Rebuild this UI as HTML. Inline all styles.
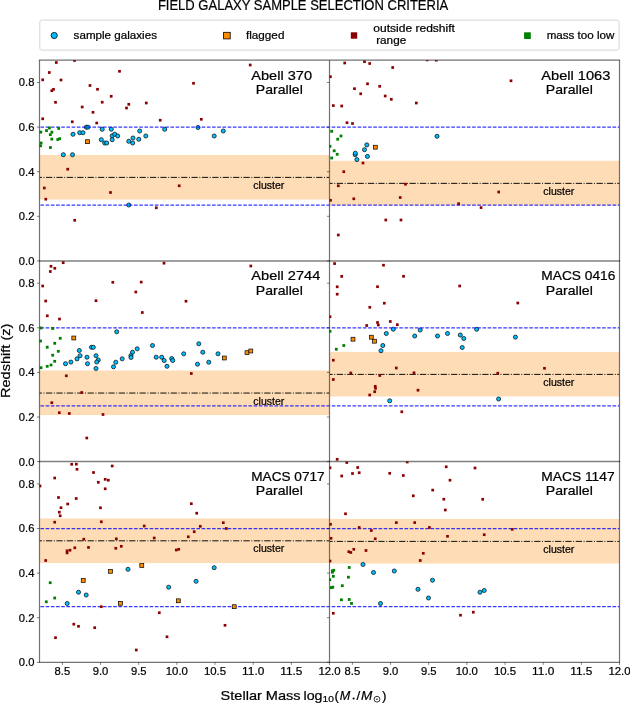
<!DOCTYPE html><html><head><meta charset="utf-8"><style>html,body{margin:0;padding:0;background:#fff;}svg{display:block;will-change:transform;}text{font-family:"Liberation Sans",sans-serif;fill:#000;stroke:#000;stroke-width:0.22px;}</style></head><body>
<svg width="630" height="706" viewBox="0 0 630 706">
<rect width="630" height="706" fill="#fff"/>
<defs>
<clipPath id="c00"><rect x="39.5" y="60.2" width="290.0" height="200.7"/></clipPath>
<clipPath id="c01"><rect x="329.5" y="60.2" width="290.0" height="200.7"/></clipPath>
<clipPath id="c10"><rect x="39.5" y="260.9" width="290.0" height="200.7"/></clipPath>
<clipPath id="c11"><rect x="329.5" y="260.9" width="290.0" height="200.7"/></clipPath>
<clipPath id="c20"><rect x="39.5" y="461.6" width="290.0" height="200.7"/></clipPath>
<clipPath id="c21"><rect x="329.5" y="461.6" width="290.0" height="200.7"/></clipPath>
</defs>
<text x="157.9" y="9.8" font-size="14.6" textLength="290.3" lengthAdjust="spacingAndGlyphs">FIELD GALAXY SAMPLE SELECTION CRITERIA</text>
<rect x="39.8" y="20.1" width="579.3" height="30" rx="2" ry="2" fill="#fff" stroke="#d6d6d6" stroke-width="1"/>
<circle cx="54.2" cy="35.5" r="3.1" fill="#00bfff" stroke="#000" stroke-width="0.8"/>
<text x="73.6" y="39.3" font-size="10.6" textLength="83.4" lengthAdjust="spacingAndGlyphs">sample galaxies</text>
<rect x="223.6" y="32.3" width="6.6" height="6.6" fill="#ff8c00" stroke="#000" stroke-width="0.8"/>
<text x="246" y="39.3" font-size="10.6" textLength="38.4" lengthAdjust="spacingAndGlyphs">flagged</text>
<rect x="350.8" y="32.3" width="6.4" height="6.4" fill="#8b0000"/>
<text x="373.3" y="32.4" font-size="10.6" textLength="81.6" lengthAdjust="spacingAndGlyphs">outside redshift</text>
<text x="376.2" y="43.7" font-size="10.6" textLength="30" lengthAdjust="spacingAndGlyphs">range</text>
<rect x="524.1" y="32.3" width="6.7" height="6.7" fill="#008000"/>
<text x="546.7" y="39.3" font-size="10.6" textLength="67.7" lengthAdjust="spacingAndGlyphs">mass too low</text>
<g clip-path="url(#c00)">
<rect x="39.5" y="154.97" width="290.0" height="44.60" fill="#fddcb6"/>
<circle cx="86.30" cy="127.20" r="2.05" fill="#00bfff" stroke="#000" stroke-width="0.7"/>
<circle cx="88.00" cy="127.20" r="2.05" fill="#00bfff" stroke="#000" stroke-width="0.7"/>
<circle cx="73.00" cy="134.30" r="2.05" fill="#00bfff" stroke="#000" stroke-width="0.7"/>
<circle cx="79.70" cy="132.70" r="2.05" fill="#00bfff" stroke="#000" stroke-width="0.7"/>
<circle cx="83.00" cy="132.70" r="2.05" fill="#00bfff" stroke="#000" stroke-width="0.7"/>
<circle cx="102.20" cy="129.30" r="2.05" fill="#00bfff" stroke="#000" stroke-width="0.7"/>
<circle cx="111.30" cy="129.30" r="2.05" fill="#00bfff" stroke="#000" stroke-width="0.7"/>
<circle cx="139.70" cy="131.00" r="2.05" fill="#00bfff" stroke="#000" stroke-width="0.7"/>
<circle cx="112.20" cy="135.80" r="2.05" fill="#00bfff" stroke="#000" stroke-width="0.7"/>
<circle cx="114.70" cy="134.20" r="2.05" fill="#00bfff" stroke="#000" stroke-width="0.7"/>
<circle cx="117.70" cy="136.00" r="2.05" fill="#00bfff" stroke="#000" stroke-width="0.7"/>
<circle cx="101.30" cy="139.70" r="2.05" fill="#00bfff" stroke="#000" stroke-width="0.7"/>
<circle cx="104.70" cy="143.00" r="2.05" fill="#00bfff" stroke="#000" stroke-width="0.7"/>
<circle cx="106.70" cy="143.00" r="2.05" fill="#00bfff" stroke="#000" stroke-width="0.7"/>
<circle cx="112.20" cy="139.70" r="2.05" fill="#00bfff" stroke="#000" stroke-width="0.7"/>
<circle cx="128.80" cy="141.30" r="2.05" fill="#00bfff" stroke="#000" stroke-width="0.7"/>
<circle cx="133.00" cy="138.00" r="2.05" fill="#00bfff" stroke="#000" stroke-width="0.7"/>
<circle cx="132.70" cy="143.00" r="2.05" fill="#00bfff" stroke="#000" stroke-width="0.7"/>
<circle cx="138.80" cy="139.30" r="2.05" fill="#00bfff" stroke="#000" stroke-width="0.7"/>
<circle cx="63.30" cy="154.70" r="2.05" fill="#00bfff" stroke="#000" stroke-width="0.7"/>
<circle cx="72.50" cy="154.70" r="2.05" fill="#00bfff" stroke="#000" stroke-width="0.7"/>
<circle cx="145.80" cy="136.00" r="2.05" fill="#00bfff" stroke="#000" stroke-width="0.7"/>
<circle cx="164.70" cy="129.30" r="2.05" fill="#00bfff" stroke="#000" stroke-width="0.7"/>
<circle cx="198.00" cy="127.50" r="2.05" fill="#00bfff" stroke="#000" stroke-width="0.7"/>
<circle cx="214.20" cy="136.00" r="2.05" fill="#00bfff" stroke="#000" stroke-width="0.7"/>
<circle cx="223.30" cy="131.00" r="2.05" fill="#00bfff" stroke="#000" stroke-width="0.7"/>
<circle cx="128.80" cy="205.00" r="2.05" fill="#00bfff" stroke="#000" stroke-width="0.7"/>
<line x1="39.5" y1="127.10" x2="329.5" y2="127.10" stroke="#0000ff" stroke-width="1.25" stroke-dasharray="3.63 1.57" stroke-dashoffset="4.26" opacity="0.78"/>
<line x1="39.5" y1="205.15" x2="329.5" y2="205.15" stroke="#0000ff" stroke-width="1.25" stroke-dasharray="3.63 1.57" stroke-dashoffset="4.26" opacity="0.78"/>
<line x1="39.5" y1="177.38" x2="329.5" y2="177.38" stroke="#000" stroke-width="1" stroke-dasharray="6.27 1.57 0.98 1.57" stroke-dashoffset="3.85" opacity="0.95"/>
<rect x="48.00" y="126.60" width="2.8" height="2.8" fill="#008000"/>
<rect x="57.30" y="127.00" width="2.8" height="2.8" fill="#008000"/>
<rect x="45.10" y="129.20" width="2.8" height="2.8" fill="#008000"/>
<rect x="39.40" y="130.70" width="2.8" height="2.8" fill="#008000"/>
<rect x="50.50" y="130.80" width="2.8" height="2.8" fill="#008000"/>
<rect x="48.90" y="133.20" width="2.8" height="2.8" fill="#008000"/>
<rect x="50.40" y="137.70" width="2.8" height="2.8" fill="#008000"/>
<rect x="56.40" y="138.10" width="2.8" height="2.8" fill="#008000"/>
<rect x="58.30" y="137.30" width="2.8" height="2.8" fill="#008000"/>
<rect x="39.70" y="141.60" width="2.8" height="2.8" fill="#008000"/>
<rect x="39.20" y="144.40" width="2.8" height="2.8" fill="#008000"/>
<rect x="49.00" y="146.10" width="2.8" height="2.8" fill="#008000"/>
<rect x="54.95" y="61.15" width="2.7" height="2.7" fill="#8b0000"/>
<rect x="73.15" y="59.15" width="2.7" height="2.7" fill="#8b0000"/>
<rect x="47.95" y="71.15" width="2.7" height="2.7" fill="#8b0000"/>
<rect x="41.35" y="78.45" width="2.7" height="2.7" fill="#8b0000"/>
<rect x="59.65" y="78.65" width="2.7" height="2.7" fill="#8b0000"/>
<rect x="118.15" y="69.95" width="2.7" height="2.7" fill="#8b0000"/>
<rect x="50.45" y="89.35" width="2.7" height="2.7" fill="#8b0000"/>
<rect x="52.15" y="87.95" width="2.7" height="2.7" fill="#8b0000"/>
<rect x="88.65" y="84.15" width="2.7" height="2.7" fill="#8b0000"/>
<rect x="96.15" y="87.95" width="2.7" height="2.7" fill="#8b0000"/>
<rect x="109.85" y="94.95" width="2.7" height="2.7" fill="#8b0000"/>
<rect x="54.15" y="100.95" width="2.7" height="2.7" fill="#8b0000"/>
<rect x="100.85" y="100.85" width="2.7" height="2.7" fill="#8b0000"/>
<rect x="80.85" y="105.65" width="2.7" height="2.7" fill="#8b0000"/>
<rect x="127.45" y="102.95" width="2.7" height="2.7" fill="#8b0000"/>
<rect x="125.15" y="106.65" width="2.7" height="2.7" fill="#8b0000"/>
<rect x="91.65" y="110.95" width="2.7" height="2.7" fill="#8b0000"/>
<rect x="41.35" y="117.45" width="2.7" height="2.7" fill="#8b0000"/>
<rect x="70.95" y="120.45" width="2.7" height="2.7" fill="#8b0000"/>
<rect x="95.35" y="121.65" width="2.7" height="2.7" fill="#8b0000"/>
<rect x="144.95" y="101.65" width="2.7" height="2.7" fill="#8b0000"/>
<rect x="192.15" y="81.95" width="2.7" height="2.7" fill="#8b0000"/>
<rect x="158.85" y="118.85" width="2.7" height="2.7" fill="#8b0000"/>
<rect x="199.95" y="117.95" width="2.7" height="2.7" fill="#8b0000"/>
<rect x="248.85" y="63.65" width="2.7" height="2.7" fill="#8b0000"/>
<rect x="66.35" y="167.85" width="2.7" height="2.7" fill="#8b0000"/>
<rect x="42.95" y="186.65" width="2.7" height="2.7" fill="#8b0000"/>
<rect x="44.45" y="197.85" width="2.7" height="2.7" fill="#8b0000"/>
<rect x="109.15" y="191.15" width="2.7" height="2.7" fill="#8b0000"/>
<rect x="73.35" y="218.95" width="2.7" height="2.7" fill="#8b0000"/>
<rect x="177.85" y="184.45" width="2.7" height="2.7" fill="#8b0000"/>
<rect x="154.95" y="206.45" width="2.7" height="2.7" fill="#8b0000"/>
<rect x="85.55" y="139.75" width="3.8999999999999995" height="3.8999999999999995" fill="#ff8c00" stroke="#000" stroke-width="0.7"/>
</g>
<text x="253.3" y="188.98" font-size="10.2" textLength="31.1" lengthAdjust="spacingAndGlyphs">cluster</text>
<text x="251.3" y="79.60" font-size="12.9" textLength="60.7" lengthAdjust="spacingAndGlyphs">Abell 370</text>
<text x="255.8" y="94.00" font-size="12.9" textLength="47" lengthAdjust="spacingAndGlyphs">Parallel</text>
<line x1="36.90" y1="260.90" x2="39.5" y2="260.90" stroke="#000" stroke-width="0.8" stroke-opacity="0.6"/>
<text x="34.4" y="264.80" font-size="11.3" text-anchor="end" textLength="15.6" lengthAdjust="spacingAndGlyphs">0.0</text>
<line x1="36.90" y1="216.30" x2="39.5" y2="216.30" stroke="#000" stroke-width="0.8" stroke-opacity="0.6"/>
<text x="34.4" y="220.20" font-size="11.3" text-anchor="end" textLength="15.6" lengthAdjust="spacingAndGlyphs">0.2</text>
<line x1="36.90" y1="171.70" x2="39.5" y2="171.70" stroke="#000" stroke-width="0.8" stroke-opacity="0.6"/>
<text x="34.4" y="175.60" font-size="11.3" text-anchor="end" textLength="15.6" lengthAdjust="spacingAndGlyphs">0.4</text>
<line x1="36.90" y1="127.10" x2="39.5" y2="127.10" stroke="#000" stroke-width="0.8" stroke-opacity="0.6"/>
<text x="34.4" y="131.00" font-size="11.3" text-anchor="end" textLength="15.6" lengthAdjust="spacingAndGlyphs">0.6</text>
<line x1="36.90" y1="82.50" x2="39.5" y2="82.50" stroke="#000" stroke-width="0.8" stroke-opacity="0.6"/>
<text x="34.4" y="86.40" font-size="11.3" text-anchor="end" textLength="15.6" lengthAdjust="spacingAndGlyphs">0.8</text>
<g clip-path="url(#c01)">
<rect x="329.5" y="160.77" width="290.0" height="44.60" fill="#fddcb6"/>
<circle cx="366.80" cy="144.90" r="2.05" fill="#00bfff" stroke="#000" stroke-width="0.7"/>
<circle cx="364.50" cy="149.70" r="2.05" fill="#00bfff" stroke="#000" stroke-width="0.7"/>
<circle cx="355.20" cy="154.80" r="2.05" fill="#00bfff" stroke="#000" stroke-width="0.7"/>
<circle cx="355.30" cy="153.20" r="2.05" fill="#00bfff" stroke="#000" stroke-width="0.7"/>
<circle cx="367.40" cy="156.40" r="2.05" fill="#00bfff" stroke="#000" stroke-width="0.7"/>
<circle cx="356.90" cy="159.60" r="2.05" fill="#00bfff" stroke="#000" stroke-width="0.7"/>
<circle cx="437.00" cy="136.30" r="2.05" fill="#00bfff" stroke="#000" stroke-width="0.7"/>
<line x1="329.5" y1="127.10" x2="619.5" y2="127.10" stroke="#0000ff" stroke-width="1.25" stroke-dasharray="3.63 1.57" stroke-dashoffset="3.0" opacity="0.78"/>
<line x1="329.5" y1="205.15" x2="619.5" y2="205.15" stroke="#0000ff" stroke-width="1.25" stroke-dasharray="3.63 1.57" stroke-dashoffset="3.0" opacity="0.78"/>
<line x1="329.5" y1="183.35" x2="619.5" y2="183.35" stroke="#000" stroke-width="1" stroke-dasharray="6.27 1.57 0.98 1.57" stroke-dashoffset="3.1" opacity="0.95"/>
<rect x="330.30" y="129.90" width="2.8" height="2.8" fill="#008000"/>
<rect x="336.30" y="137.80" width="2.8" height="2.8" fill="#008000"/>
<rect x="339.60" y="134.60" width="2.8" height="2.8" fill="#008000"/>
<rect x="328.60" y="144.90" width="2.8" height="2.8" fill="#008000"/>
<rect x="332.80" y="149.40" width="2.8" height="2.8" fill="#008000"/>
<rect x="335.80" y="152.90" width="2.8" height="2.8" fill="#008000"/>
<rect x="330.30" y="156.60" width="2.8" height="2.8" fill="#008000"/>
<rect x="343.35" y="61.65" width="2.7" height="2.7" fill="#8b0000"/>
<rect x="363.15" y="60.35" width="2.7" height="2.7" fill="#8b0000"/>
<rect x="368.35" y="62.15" width="2.7" height="2.7" fill="#8b0000"/>
<rect x="391.35" y="66.15" width="2.7" height="2.7" fill="#8b0000"/>
<rect x="425.85" y="58.55" width="2.7" height="2.7" fill="#8b0000"/>
<rect x="434.95" y="58.85" width="2.7" height="2.7" fill="#8b0000"/>
<rect x="329.05" y="75.35" width="2.7" height="2.7" fill="#8b0000"/>
<rect x="366.15" y="82.45" width="2.7" height="2.7" fill="#8b0000"/>
<rect x="353.15" y="87.35" width="2.7" height="2.7" fill="#8b0000"/>
<rect x="378.35" y="84.95" width="2.7" height="2.7" fill="#8b0000"/>
<rect x="359.35" y="92.45" width="2.7" height="2.7" fill="#8b0000"/>
<rect x="383.85" y="94.65" width="2.7" height="2.7" fill="#8b0000"/>
<rect x="389.95" y="97.95" width="2.7" height="2.7" fill="#8b0000"/>
<rect x="331.95" y="104.25" width="2.7" height="2.7" fill="#8b0000"/>
<rect x="340.35" y="104.65" width="2.7" height="2.7" fill="#8b0000"/>
<rect x="414.95" y="101.65" width="2.7" height="2.7" fill="#8b0000"/>
<rect x="345.65" y="121.35" width="2.7" height="2.7" fill="#8b0000"/>
<rect x="351.15" y="122.15" width="2.7" height="2.7" fill="#8b0000"/>
<rect x="509.65" y="79.45" width="2.7" height="2.7" fill="#8b0000"/>
<rect x="361.65" y="161.65" width="2.7" height="2.7" fill="#8b0000"/>
<rect x="342.45" y="170.35" width="2.7" height="2.7" fill="#8b0000"/>
<rect x="336.95" y="184.45" width="2.7" height="2.7" fill="#8b0000"/>
<rect x="404.15" y="182.85" width="2.7" height="2.7" fill="#8b0000"/>
<rect x="329.15" y="198.95" width="2.7" height="2.7" fill="#8b0000"/>
<rect x="352.45" y="197.45" width="2.7" height="2.7" fill="#8b0000"/>
<rect x="398.85" y="196.15" width="2.7" height="2.7" fill="#8b0000"/>
<rect x="384.45" y="218.65" width="2.7" height="2.7" fill="#8b0000"/>
<rect x="399.65" y="218.65" width="2.7" height="2.7" fill="#8b0000"/>
<rect x="336.95" y="233.65" width="2.7" height="2.7" fill="#8b0000"/>
<rect x="457.25" y="202.35" width="2.7" height="2.7" fill="#8b0000"/>
<rect x="479.75" y="206.25" width="2.7" height="2.7" fill="#8b0000"/>
<rect x="497.35" y="190.65" width="2.7" height="2.7" fill="#8b0000"/>
<rect x="373.35" y="145.25" width="3.8999999999999995" height="3.8999999999999995" fill="#ff8c00" stroke="#000" stroke-width="0.7"/>
</g>
<text x="543.3" y="194.95" font-size="10.2" textLength="31.1" lengthAdjust="spacingAndGlyphs">cluster</text>
<text x="541.3" y="79.60" font-size="12.9" textLength="69.1" lengthAdjust="spacingAndGlyphs">Abell 1063</text>
<text x="545.8" y="94.00" font-size="12.9" textLength="47" lengthAdjust="spacingAndGlyphs">Parallel</text>
<line x1="326.90" y1="260.90" x2="329.5" y2="260.90" stroke="#000" stroke-width="0.8" stroke-opacity="0.6"/>
<line x1="326.90" y1="216.30" x2="329.5" y2="216.30" stroke="#000" stroke-width="0.8" stroke-opacity="0.6"/>
<line x1="326.90" y1="171.70" x2="329.5" y2="171.70" stroke="#000" stroke-width="0.8" stroke-opacity="0.6"/>
<line x1="326.90" y1="127.10" x2="329.5" y2="127.10" stroke="#000" stroke-width="0.8" stroke-opacity="0.6"/>
<line x1="326.90" y1="82.50" x2="329.5" y2="82.50" stroke="#000" stroke-width="0.8" stroke-opacity="0.6"/>
<g clip-path="url(#c10)">
<rect x="39.5" y="370.50" width="290.0" height="44.60" fill="#fddcb6"/>
<circle cx="116.70" cy="331.80" r="2.05" fill="#00bfff" stroke="#000" stroke-width="0.7"/>
<circle cx="91.50" cy="347.30" r="2.05" fill="#00bfff" stroke="#000" stroke-width="0.7"/>
<circle cx="93.30" cy="347.30" r="2.05" fill="#00bfff" stroke="#000" stroke-width="0.7"/>
<circle cx="79.30" cy="350.50" r="2.05" fill="#00bfff" stroke="#000" stroke-width="0.7"/>
<circle cx="80.10" cy="355.70" r="2.05" fill="#00bfff" stroke="#000" stroke-width="0.7"/>
<circle cx="77.00" cy="358.90" r="2.05" fill="#00bfff" stroke="#000" stroke-width="0.7"/>
<circle cx="70.90" cy="362.10" r="2.05" fill="#00bfff" stroke="#000" stroke-width="0.7"/>
<circle cx="65.50" cy="363.70" r="2.05" fill="#00bfff" stroke="#000" stroke-width="0.7"/>
<circle cx="87.00" cy="357.20" r="2.05" fill="#00bfff" stroke="#000" stroke-width="0.7"/>
<circle cx="87.50" cy="363.70" r="2.05" fill="#00bfff" stroke="#000" stroke-width="0.7"/>
<circle cx="96.00" cy="355.70" r="2.05" fill="#00bfff" stroke="#000" stroke-width="0.7"/>
<circle cx="98.30" cy="360.00" r="2.05" fill="#00bfff" stroke="#000" stroke-width="0.7"/>
<circle cx="96.70" cy="362.00" r="2.05" fill="#00bfff" stroke="#000" stroke-width="0.7"/>
<circle cx="96.00" cy="368.50" r="2.05" fill="#00bfff" stroke="#000" stroke-width="0.7"/>
<circle cx="113.50" cy="366.80" r="2.05" fill="#00bfff" stroke="#000" stroke-width="0.7"/>
<circle cx="115.80" cy="362.20" r="2.05" fill="#00bfff" stroke="#000" stroke-width="0.7"/>
<circle cx="122.20" cy="358.80" r="2.05" fill="#00bfff" stroke="#000" stroke-width="0.7"/>
<circle cx="131.00" cy="355.50" r="2.05" fill="#00bfff" stroke="#000" stroke-width="0.7"/>
<circle cx="131.00" cy="357.50" r="2.05" fill="#00bfff" stroke="#000" stroke-width="0.7"/>
<circle cx="132.50" cy="352.20" r="2.05" fill="#00bfff" stroke="#000" stroke-width="0.7"/>
<circle cx="137.20" cy="348.80" r="2.05" fill="#00bfff" stroke="#000" stroke-width="0.7"/>
<circle cx="152.50" cy="345.50" r="2.05" fill="#00bfff" stroke="#000" stroke-width="0.7"/>
<circle cx="156.20" cy="357.20" r="2.05" fill="#00bfff" stroke="#000" stroke-width="0.7"/>
<circle cx="161.70" cy="357.20" r="2.05" fill="#00bfff" stroke="#000" stroke-width="0.7"/>
<circle cx="164.20" cy="360.50" r="2.05" fill="#00bfff" stroke="#000" stroke-width="0.7"/>
<circle cx="171.70" cy="358.50" r="2.05" fill="#00bfff" stroke="#000" stroke-width="0.7"/>
<circle cx="172.70" cy="360.50" r="2.05" fill="#00bfff" stroke="#000" stroke-width="0.7"/>
<circle cx="167.00" cy="366.30" r="2.05" fill="#00bfff" stroke="#000" stroke-width="0.7"/>
<circle cx="183.70" cy="353.80" r="2.05" fill="#00bfff" stroke="#000" stroke-width="0.7"/>
<circle cx="198.80" cy="343.80" r="2.05" fill="#00bfff" stroke="#000" stroke-width="0.7"/>
<circle cx="202.80" cy="352.20" r="2.05" fill="#00bfff" stroke="#000" stroke-width="0.7"/>
<circle cx="197.50" cy="364.20" r="2.05" fill="#00bfff" stroke="#000" stroke-width="0.7"/>
<circle cx="208.80" cy="362.20" r="2.05" fill="#00bfff" stroke="#000" stroke-width="0.7"/>
<circle cx="218.00" cy="353.80" r="2.05" fill="#00bfff" stroke="#000" stroke-width="0.7"/>
<line x1="39.5" y1="327.80" x2="329.5" y2="327.80" stroke="#0000ff" stroke-width="1.25" stroke-dasharray="3.63 1.57" stroke-dashoffset="4.26" opacity="0.78"/>
<line x1="39.5" y1="405.85" x2="329.5" y2="405.85" stroke="#0000ff" stroke-width="1.25" stroke-dasharray="3.63 1.57" stroke-dashoffset="4.26" opacity="0.78"/>
<line x1="39.5" y1="393.05" x2="329.5" y2="393.05" stroke="#000" stroke-width="1" stroke-dasharray="6.27 1.57 0.98 1.57" stroke-dashoffset="3.85" opacity="0.95"/>
<rect x="39.60" y="326.60" width="2.8" height="2.8" fill="#008000"/>
<rect x="51.30" y="327.10" width="2.8" height="2.8" fill="#008000"/>
<rect x="39.10" y="339.60" width="2.8" height="2.8" fill="#008000"/>
<rect x="58.80" y="336.90" width="2.8" height="2.8" fill="#008000"/>
<rect x="53.30" y="341.90" width="2.8" height="2.8" fill="#008000"/>
<rect x="45.80" y="345.80" width="2.8" height="2.8" fill="#008000"/>
<rect x="56.90" y="349.90" width="2.8" height="2.8" fill="#008000"/>
<rect x="51.30" y="353.80" width="2.8" height="2.8" fill="#008000"/>
<rect x="53.30" y="359.90" width="2.8" height="2.8" fill="#008000"/>
<rect x="49.60" y="363.60" width="2.8" height="2.8" fill="#008000"/>
<rect x="45.80" y="364.90" width="2.8" height="2.8" fill="#008000"/>
<rect x="39.60" y="366.30" width="2.8" height="2.8" fill="#008000"/>
<rect x="61.85" y="261.35" width="2.7" height="2.7" fill="#8b0000"/>
<rect x="49.65" y="264.95" width="2.7" height="2.7" fill="#8b0000"/>
<rect x="53.45" y="266.95" width="2.7" height="2.7" fill="#8b0000"/>
<rect x="48.95" y="270.15" width="2.7" height="2.7" fill="#8b0000"/>
<rect x="41.35" y="284.65" width="2.7" height="2.7" fill="#8b0000"/>
<rect x="111.45" y="280.95" width="2.7" height="2.7" fill="#8b0000"/>
<rect x="139.85" y="280.75" width="2.7" height="2.7" fill="#8b0000"/>
<rect x="134.45" y="290.65" width="2.7" height="2.7" fill="#8b0000"/>
<rect x="44.35" y="299.65" width="2.7" height="2.7" fill="#8b0000"/>
<rect x="94.65" y="299.35" width="2.7" height="2.7" fill="#8b0000"/>
<rect x="45.95" y="314.45" width="2.7" height="2.7" fill="#8b0000"/>
<rect x="58.15" y="317.65" width="2.7" height="2.7" fill="#8b0000"/>
<rect x="140.95" y="311.15" width="2.7" height="2.7" fill="#8b0000"/>
<rect x="162.65" y="261.85" width="2.7" height="2.7" fill="#8b0000"/>
<rect x="184.65" y="299.85" width="2.7" height="2.7" fill="#8b0000"/>
<rect x="249.45" y="264.65" width="2.7" height="2.7" fill="#8b0000"/>
<rect x="64.95" y="374.45" width="2.7" height="2.7" fill="#8b0000"/>
<rect x="189.95" y="372.15" width="2.7" height="2.7" fill="#8b0000"/>
<rect x="80.35" y="391.15" width="2.7" height="2.7" fill="#8b0000"/>
<rect x="50.45" y="401.35" width="2.7" height="2.7" fill="#8b0000"/>
<rect x="57.95" y="411.35" width="2.7" height="2.7" fill="#8b0000"/>
<rect x="67.95" y="412.15" width="2.7" height="2.7" fill="#8b0000"/>
<rect x="101.65" y="413.15" width="2.7" height="2.7" fill="#8b0000"/>
<rect x="85.45" y="436.65" width="2.7" height="2.7" fill="#8b0000"/>
<rect x="71.85" y="336.05" width="3.8999999999999995" height="3.8999999999999995" fill="#ff8c00" stroke="#000" stroke-width="0.7"/>
<rect x="222.35" y="356.05" width="3.8999999999999995" height="3.8999999999999995" fill="#ff8c00" stroke="#000" stroke-width="0.7"/>
<rect x="245.05" y="350.75" width="3.8999999999999995" height="3.8999999999999995" fill="#ff8c00" stroke="#000" stroke-width="0.7"/>
<rect x="248.85" y="349.05" width="3.8999999999999995" height="3.8999999999999995" fill="#ff8c00" stroke="#000" stroke-width="0.7"/>
</g>
<text x="253.3" y="404.65" font-size="10.2" textLength="31.1" lengthAdjust="spacingAndGlyphs">cluster</text>
<text x="251.3" y="280.30" font-size="12.9" textLength="69.0" lengthAdjust="spacingAndGlyphs">Abell 2744</text>
<text x="255.8" y="294.70" font-size="12.9" textLength="47" lengthAdjust="spacingAndGlyphs">Parallel</text>
<line x1="36.90" y1="461.60" x2="39.5" y2="461.60" stroke="#000" stroke-width="0.8" stroke-opacity="0.6"/>
<text x="34.4" y="465.50" font-size="11.3" text-anchor="end" textLength="15.6" lengthAdjust="spacingAndGlyphs">0.0</text>
<line x1="36.90" y1="417.00" x2="39.5" y2="417.00" stroke="#000" stroke-width="0.8" stroke-opacity="0.6"/>
<text x="34.4" y="420.90" font-size="11.3" text-anchor="end" textLength="15.6" lengthAdjust="spacingAndGlyphs">0.2</text>
<line x1="36.90" y1="372.40" x2="39.5" y2="372.40" stroke="#000" stroke-width="0.8" stroke-opacity="0.6"/>
<text x="34.4" y="376.30" font-size="11.3" text-anchor="end" textLength="15.6" lengthAdjust="spacingAndGlyphs">0.4</text>
<line x1="36.90" y1="327.80" x2="39.5" y2="327.80" stroke="#000" stroke-width="0.8" stroke-opacity="0.6"/>
<text x="34.4" y="331.70" font-size="11.3" text-anchor="end" textLength="15.6" lengthAdjust="spacingAndGlyphs">0.6</text>
<line x1="36.90" y1="283.20" x2="39.5" y2="283.20" stroke="#000" stroke-width="0.8" stroke-opacity="0.6"/>
<text x="34.4" y="287.10" font-size="11.3" text-anchor="end" textLength="15.6" lengthAdjust="spacingAndGlyphs">0.8</text>
<g clip-path="url(#c11)">
<rect x="329.5" y="351.88" width="290.0" height="44.60" fill="#fddcb6"/>
<circle cx="393.30" cy="329.20" r="2.05" fill="#00bfff" stroke="#000" stroke-width="0.7"/>
<circle cx="386.30" cy="333.50" r="2.05" fill="#00bfff" stroke="#000" stroke-width="0.7"/>
<circle cx="382.80" cy="345.50" r="2.05" fill="#00bfff" stroke="#000" stroke-width="0.7"/>
<circle cx="381.00" cy="350.70" r="2.05" fill="#00bfff" stroke="#000" stroke-width="0.7"/>
<circle cx="414.70" cy="336.00" r="2.05" fill="#00bfff" stroke="#000" stroke-width="0.7"/>
<circle cx="420.20" cy="330.00" r="2.05" fill="#00bfff" stroke="#000" stroke-width="0.7"/>
<circle cx="437.50" cy="336.00" r="2.05" fill="#00bfff" stroke="#000" stroke-width="0.7"/>
<circle cx="447.50" cy="333.50" r="2.05" fill="#00bfff" stroke="#000" stroke-width="0.7"/>
<circle cx="460.30" cy="335.00" r="2.05" fill="#00bfff" stroke="#000" stroke-width="0.7"/>
<circle cx="463.80" cy="338.50" r="2.05" fill="#00bfff" stroke="#000" stroke-width="0.7"/>
<circle cx="462.20" cy="347.50" r="2.05" fill="#00bfff" stroke="#000" stroke-width="0.7"/>
<circle cx="476.70" cy="329.30" r="2.05" fill="#00bfff" stroke="#000" stroke-width="0.7"/>
<circle cx="515.40" cy="337.10" r="2.05" fill="#00bfff" stroke="#000" stroke-width="0.7"/>
<circle cx="389.70" cy="400.80" r="2.05" fill="#00bfff" stroke="#000" stroke-width="0.7"/>
<circle cx="498.60" cy="399.00" r="2.05" fill="#00bfff" stroke="#000" stroke-width="0.7"/>
<line x1="329.5" y1="327.80" x2="619.5" y2="327.80" stroke="#0000ff" stroke-width="1.25" stroke-dasharray="3.63 1.57" stroke-dashoffset="3.0" opacity="0.78"/>
<line x1="329.5" y1="405.85" x2="619.5" y2="405.85" stroke="#0000ff" stroke-width="1.25" stroke-dasharray="3.63 1.57" stroke-dashoffset="3.0" opacity="0.78"/>
<line x1="329.5" y1="374.38" x2="619.5" y2="374.38" stroke="#000" stroke-width="1" stroke-dasharray="6.27 1.57 0.98 1.57" stroke-dashoffset="3.1" opacity="0.95"/>
<rect x="328.60" y="329.90" width="2.8" height="2.8" fill="#008000"/>
<rect x="334.90" y="347.80" width="2.8" height="2.8" fill="#008000"/>
<rect x="342.40" y="344.10" width="2.8" height="2.8" fill="#008000"/>
<rect x="333.25" y="262.25" width="2.7" height="2.7" fill="#8b0000"/>
<rect x="340.35" y="275.05" width="2.7" height="2.7" fill="#8b0000"/>
<rect x="382.15" y="263.85" width="2.7" height="2.7" fill="#8b0000"/>
<rect x="402.15" y="274.95" width="2.7" height="2.7" fill="#8b0000"/>
<rect x="335.85" y="285.45" width="2.7" height="2.7" fill="#8b0000"/>
<rect x="376.15" y="285.35" width="2.7" height="2.7" fill="#8b0000"/>
<rect x="335.85" y="292.85" width="2.7" height="2.7" fill="#8b0000"/>
<rect x="382.95" y="301.85" width="2.7" height="2.7" fill="#8b0000"/>
<rect x="368.45" y="305.95" width="2.7" height="2.7" fill="#8b0000"/>
<rect x="328.65" y="315.35" width="2.7" height="2.7" fill="#8b0000"/>
<rect x="376.15" y="321.15" width="2.7" height="2.7" fill="#8b0000"/>
<rect x="376.95" y="323.65" width="2.7" height="2.7" fill="#8b0000"/>
<rect x="388.95" y="320.15" width="2.7" height="2.7" fill="#8b0000"/>
<rect x="395.95" y="323.35" width="2.7" height="2.7" fill="#8b0000"/>
<rect x="365.35" y="324.15" width="2.7" height="2.7" fill="#8b0000"/>
<rect x="458.35" y="284.65" width="2.7" height="2.7" fill="#8b0000"/>
<rect x="516.45" y="301.65" width="2.7" height="2.7" fill="#8b0000"/>
<rect x="331.95" y="358.85" width="2.7" height="2.7" fill="#8b0000"/>
<rect x="349.45" y="371.65" width="2.7" height="2.7" fill="#8b0000"/>
<rect x="394.95" y="366.65" width="2.7" height="2.7" fill="#8b0000"/>
<rect x="378.45" y="374.15" width="2.7" height="2.7" fill="#8b0000"/>
<rect x="412.65" y="371.45" width="2.7" height="2.7" fill="#8b0000"/>
<rect x="331.95" y="378.15" width="2.7" height="2.7" fill="#8b0000"/>
<rect x="373.85" y="384.95" width="2.7" height="2.7" fill="#8b0000"/>
<rect x="374.15" y="386.95" width="2.7" height="2.7" fill="#8b0000"/>
<rect x="373.35" y="390.35" width="2.7" height="2.7" fill="#8b0000"/>
<rect x="368.35" y="393.65" width="2.7" height="2.7" fill="#8b0000"/>
<rect x="416.65" y="388.85" width="2.7" height="2.7" fill="#8b0000"/>
<rect x="400.45" y="410.45" width="2.7" height="2.7" fill="#8b0000"/>
<rect x="496.45" y="371.85" width="2.7" height="2.7" fill="#8b0000"/>
<rect x="543.15" y="366.95" width="2.7" height="2.7" fill="#8b0000"/>
<rect x="335.85" y="457.95" width="2.7" height="2.7" fill="#8b0000"/>
<rect x="351.05" y="337.25" width="3.8999999999999995" height="3.8999999999999995" fill="#ff8c00" stroke="#000" stroke-width="0.7"/>
<rect x="369.35" y="335.25" width="3.8999999999999995" height="3.8999999999999995" fill="#ff8c00" stroke="#000" stroke-width="0.7"/>
<rect x="372.55" y="339.25" width="3.8999999999999995" height="3.8999999999999995" fill="#ff8c00" stroke="#000" stroke-width="0.7"/>
</g>
<text x="543.3" y="385.98" font-size="10.2" textLength="31.1" lengthAdjust="spacingAndGlyphs">cluster</text>
<text x="541.3" y="280.30" font-size="12.9" textLength="74.0" lengthAdjust="spacingAndGlyphs">MACS 0416</text>
<text x="545.8" y="294.70" font-size="12.9" textLength="47" lengthAdjust="spacingAndGlyphs">Parallel</text>
<line x1="326.90" y1="461.60" x2="329.5" y2="461.60" stroke="#000" stroke-width="0.8" stroke-opacity="0.6"/>
<line x1="326.90" y1="417.00" x2="329.5" y2="417.00" stroke="#000" stroke-width="0.8" stroke-opacity="0.6"/>
<line x1="326.90" y1="372.40" x2="329.5" y2="372.40" stroke="#000" stroke-width="0.8" stroke-opacity="0.6"/>
<line x1="326.90" y1="327.80" x2="329.5" y2="327.80" stroke="#000" stroke-width="0.8" stroke-opacity="0.6"/>
<line x1="326.90" y1="283.20" x2="329.5" y2="283.20" stroke="#000" stroke-width="0.8" stroke-opacity="0.6"/>
<g clip-path="url(#c20)">
<rect x="39.5" y="518.47" width="290.0" height="44.60" fill="#fddcb6"/>
<circle cx="128.00" cy="569.30" r="2.05" fill="#00bfff" stroke="#000" stroke-width="0.7"/>
<circle cx="214.20" cy="567.70" r="2.05" fill="#00bfff" stroke="#000" stroke-width="0.7"/>
<circle cx="196.10" cy="581.30" r="2.05" fill="#00bfff" stroke="#000" stroke-width="0.7"/>
<circle cx="168.70" cy="587.20" r="2.05" fill="#00bfff" stroke="#000" stroke-width="0.7"/>
<circle cx="78.50" cy="592.20" r="2.05" fill="#00bfff" stroke="#000" stroke-width="0.7"/>
<circle cx="86.20" cy="595.00" r="2.05" fill="#00bfff" stroke="#000" stroke-width="0.7"/>
<circle cx="67.20" cy="603.50" r="2.05" fill="#00bfff" stroke="#000" stroke-width="0.7"/>
<line x1="39.5" y1="528.50" x2="329.5" y2="528.50" stroke="#0000ff" stroke-width="1.25" stroke-dasharray="3.63 1.57" stroke-dashoffset="4.26" opacity="0.78"/>
<line x1="39.5" y1="606.55" x2="329.5" y2="606.55" stroke="#0000ff" stroke-width="1.25" stroke-dasharray="3.63 1.57" stroke-dashoffset="4.26" opacity="0.78"/>
<line x1="39.5" y1="540.82" x2="329.5" y2="540.82" stroke="#000" stroke-width="1" stroke-dasharray="6.27 1.57 0.98 1.57" stroke-dashoffset="3.85" opacity="0.95"/>
<rect x="48.80" y="581.30" width="2.8" height="2.8" fill="#008000"/>
<rect x="53.30" y="596.60" width="2.8" height="2.8" fill="#008000"/>
<rect x="44.90" y="600.40" width="2.8" height="2.8" fill="#008000"/>
<rect x="70.35" y="462.95" width="2.7" height="2.7" fill="#8b0000"/>
<rect x="74.95" y="462.85" width="2.7" height="2.7" fill="#8b0000"/>
<rect x="75.65" y="467.95" width="2.7" height="2.7" fill="#8b0000"/>
<rect x="110.85" y="464.65" width="2.7" height="2.7" fill="#8b0000"/>
<rect x="92.15" y="471.15" width="2.7" height="2.7" fill="#8b0000"/>
<rect x="53.35" y="476.65" width="2.7" height="2.7" fill="#8b0000"/>
<rect x="38.65" y="484.65" width="2.7" height="2.7" fill="#8b0000"/>
<rect x="103.85" y="477.95" width="2.7" height="2.7" fill="#8b0000"/>
<rect x="106.95" y="478.85" width="2.7" height="2.7" fill="#8b0000"/>
<rect x="96.95" y="480.95" width="2.7" height="2.7" fill="#8b0000"/>
<rect x="103.85" y="487.45" width="2.7" height="2.7" fill="#8b0000"/>
<rect x="57.15" y="496.15" width="2.7" height="2.7" fill="#8b0000"/>
<rect x="74.85" y="497.15" width="2.7" height="2.7" fill="#8b0000"/>
<rect x="66.35" y="502.65" width="2.7" height="2.7" fill="#8b0000"/>
<rect x="59.65" y="506.35" width="2.7" height="2.7" fill="#8b0000"/>
<rect x="99.15" y="506.45" width="2.7" height="2.7" fill="#8b0000"/>
<rect x="57.95" y="510.85" width="2.7" height="2.7" fill="#8b0000"/>
<rect x="58.85" y="514.45" width="2.7" height="2.7" fill="#8b0000"/>
<rect x="53.35" y="520.85" width="2.7" height="2.7" fill="#8b0000"/>
<rect x="99.95" y="520.45" width="2.7" height="2.7" fill="#8b0000"/>
<rect x="189.95" y="502.35" width="2.7" height="2.7" fill="#8b0000"/>
<rect x="195.35" y="511.85" width="2.7" height="2.7" fill="#8b0000"/>
<rect x="221.95" y="521.35" width="2.7" height="2.7" fill="#8b0000"/>
<rect x="142.85" y="524.65" width="2.7" height="2.7" fill="#8b0000"/>
<rect x="198.95" y="524.95" width="2.7" height="2.7" fill="#8b0000"/>
<rect x="224.95" y="527.15" width="2.7" height="2.7" fill="#8b0000"/>
<rect x="152.85" y="536.65" width="2.7" height="2.7" fill="#8b0000"/>
<rect x="186.95" y="535.45" width="2.7" height="2.7" fill="#8b0000"/>
<rect x="192.85" y="530.35" width="2.7" height="2.7" fill="#8b0000"/>
<rect x="174.95" y="548.65" width="2.7" height="2.7" fill="#8b0000"/>
<rect x="177.35" y="547.95" width="2.7" height="2.7" fill="#8b0000"/>
<rect x="82.45" y="537.85" width="2.7" height="2.7" fill="#8b0000"/>
<rect x="114.95" y="537.45" width="2.7" height="2.7" fill="#8b0000"/>
<rect x="65.75" y="549.45" width="2.7" height="2.7" fill="#8b0000"/>
<rect x="65.75" y="551.55" width="2.7" height="2.7" fill="#8b0000"/>
<rect x="68.65" y="548.85" width="2.7" height="2.7" fill="#8b0000"/>
<rect x="73.45" y="546.45" width="2.7" height="2.7" fill="#8b0000"/>
<rect x="87.15" y="546.05" width="2.7" height="2.7" fill="#8b0000"/>
<rect x="114.45" y="546.95" width="2.7" height="2.7" fill="#8b0000"/>
<rect x="119.95" y="544.95" width="2.7" height="2.7" fill="#8b0000"/>
<rect x="44.35" y="559.15" width="2.7" height="2.7" fill="#8b0000"/>
<rect x="99.95" y="605.35" width="2.7" height="2.7" fill="#8b0000"/>
<rect x="72.45" y="622.85" width="2.7" height="2.7" fill="#8b0000"/>
<rect x="77.15" y="624.95" width="2.7" height="2.7" fill="#8b0000"/>
<rect x="93.35" y="626.35" width="2.7" height="2.7" fill="#8b0000"/>
<rect x="54.15" y="636.35" width="2.7" height="2.7" fill="#8b0000"/>
<rect x="134.95" y="648.65" width="2.7" height="2.7" fill="#8b0000"/>
<rect x="157.95" y="611.35" width="2.7" height="2.7" fill="#8b0000"/>
<rect x="165.65" y="635.45" width="2.7" height="2.7" fill="#8b0000"/>
<rect x="223.65" y="623.95" width="2.7" height="2.7" fill="#8b0000"/>
<rect x="108.55" y="569.35" width="3.8999999999999995" height="3.8999999999999995" fill="#ff8c00" stroke="#000" stroke-width="0.7"/>
<rect x="81.25" y="578.45" width="3.8999999999999995" height="3.8999999999999995" fill="#ff8c00" stroke="#000" stroke-width="0.7"/>
<rect x="139.85" y="563.55" width="3.8999999999999995" height="3.8999999999999995" fill="#ff8c00" stroke="#000" stroke-width="0.7"/>
<rect x="118.55" y="601.35" width="3.8999999999999995" height="3.8999999999999995" fill="#ff8c00" stroke="#000" stroke-width="0.7"/>
<rect x="176.35" y="598.85" width="3.8999999999999995" height="3.8999999999999995" fill="#ff8c00" stroke="#000" stroke-width="0.7"/>
<rect x="232.25" y="604.75" width="3.8999999999999995" height="3.8999999999999995" fill="#ff8c00" stroke="#000" stroke-width="0.7"/>
</g>
<text x="253.3" y="552.42" font-size="10.2" textLength="31.1" lengthAdjust="spacingAndGlyphs">cluster</text>
<text x="251.3" y="481.00" font-size="12.9" textLength="73.3" lengthAdjust="spacingAndGlyphs">MACS 0717</text>
<text x="255.8" y="495.40" font-size="12.9" textLength="47" lengthAdjust="spacingAndGlyphs">Parallel</text>
<line x1="36.90" y1="662.30" x2="39.5" y2="662.30" stroke="#000" stroke-width="0.8" stroke-opacity="0.6"/>
<text x="34.4" y="666.20" font-size="11.3" text-anchor="end" textLength="15.6" lengthAdjust="spacingAndGlyphs">0.0</text>
<line x1="36.90" y1="617.70" x2="39.5" y2="617.70" stroke="#000" stroke-width="0.8" stroke-opacity="0.6"/>
<text x="34.4" y="621.60" font-size="11.3" text-anchor="end" textLength="15.6" lengthAdjust="spacingAndGlyphs">0.2</text>
<line x1="36.90" y1="573.10" x2="39.5" y2="573.10" stroke="#000" stroke-width="0.8" stroke-opacity="0.6"/>
<text x="34.4" y="577.00" font-size="11.3" text-anchor="end" textLength="15.6" lengthAdjust="spacingAndGlyphs">0.4</text>
<line x1="36.90" y1="528.50" x2="39.5" y2="528.50" stroke="#000" stroke-width="0.8" stroke-opacity="0.6"/>
<text x="34.4" y="532.40" font-size="11.3" text-anchor="end" textLength="15.6" lengthAdjust="spacingAndGlyphs">0.6</text>
<line x1="36.90" y1="483.90" x2="39.5" y2="483.90" stroke="#000" stroke-width="0.8" stroke-opacity="0.6"/>
<text x="34.4" y="487.80" font-size="11.3" text-anchor="end" textLength="15.6" lengthAdjust="spacingAndGlyphs">0.8</text>
<line x1="62.39" y1="662.30" x2="62.39" y2="664.90" stroke="#000" stroke-width="0.8" stroke-opacity="0.6"/>
<text x="62.39" y="675.0" font-size="11.3" text-anchor="middle" textLength="15.6" lengthAdjust="spacingAndGlyphs">8.5</text>
<line x1="100.55" y1="662.30" x2="100.55" y2="664.90" stroke="#000" stroke-width="0.8" stroke-opacity="0.6"/>
<text x="100.55" y="675.0" font-size="11.3" text-anchor="middle" textLength="15.6" lengthAdjust="spacingAndGlyphs">9.0</text>
<line x1="138.71" y1="662.30" x2="138.71" y2="664.90" stroke="#000" stroke-width="0.8" stroke-opacity="0.6"/>
<text x="138.71" y="675.0" font-size="11.3" text-anchor="middle" textLength="15.6" lengthAdjust="spacingAndGlyphs">9.5</text>
<line x1="176.87" y1="662.30" x2="176.87" y2="664.90" stroke="#000" stroke-width="0.8" stroke-opacity="0.6"/>
<text x="176.87" y="675.0" font-size="11.3" text-anchor="middle" textLength="22.2" lengthAdjust="spacingAndGlyphs">10.0</text>
<line x1="215.03" y1="662.30" x2="215.03" y2="664.90" stroke="#000" stroke-width="0.8" stroke-opacity="0.6"/>
<text x="215.03" y="675.0" font-size="11.3" text-anchor="middle" textLength="22.2" lengthAdjust="spacingAndGlyphs">10.5</text>
<line x1="253.18" y1="662.30" x2="253.18" y2="664.90" stroke="#000" stroke-width="0.8" stroke-opacity="0.6"/>
<text x="253.18" y="675.0" font-size="11.3" text-anchor="middle" textLength="22.2" lengthAdjust="spacingAndGlyphs">11.0</text>
<line x1="291.34" y1="662.30" x2="291.34" y2="664.90" stroke="#000" stroke-width="0.8" stroke-opacity="0.6"/>
<text x="291.34" y="675.0" font-size="11.3" text-anchor="middle" textLength="22.2" lengthAdjust="spacingAndGlyphs">11.5</text>
<line x1="329.50" y1="662.30" x2="329.50" y2="664.90" stroke="#000" stroke-width="0.8" stroke-opacity="0.6"/>
<text x="329.50" y="675.0" font-size="11.3" text-anchor="middle" textLength="22.2" lengthAdjust="spacingAndGlyphs">12.0</text>
<g clip-path="url(#c21)">
<rect x="329.5" y="518.91" width="290.0" height="44.60" fill="#fddcb6"/>
<circle cx="363.00" cy="564.50" r="2.05" fill="#00bfff" stroke="#000" stroke-width="0.7"/>
<circle cx="373.50" cy="572.50" r="2.05" fill="#00bfff" stroke="#000" stroke-width="0.7"/>
<circle cx="394.30" cy="571.00" r="2.05" fill="#00bfff" stroke="#000" stroke-width="0.7"/>
<circle cx="432.50" cy="580.20" r="2.05" fill="#00bfff" stroke="#000" stroke-width="0.7"/>
<circle cx="418.00" cy="589.30" r="2.05" fill="#00bfff" stroke="#000" stroke-width="0.7"/>
<circle cx="428.50" cy="598.00" r="2.05" fill="#00bfff" stroke="#000" stroke-width="0.7"/>
<circle cx="380.50" cy="603.50" r="2.05" fill="#00bfff" stroke="#000" stroke-width="0.7"/>
<circle cx="480.00" cy="592.20" r="2.05" fill="#00bfff" stroke="#000" stroke-width="0.7"/>
<circle cx="484.20" cy="590.50" r="2.05" fill="#00bfff" stroke="#000" stroke-width="0.7"/>
<line x1="329.5" y1="528.50" x2="619.5" y2="528.50" stroke="#0000ff" stroke-width="1.25" stroke-dasharray="3.63 1.57" stroke-dashoffset="3.0" opacity="0.78"/>
<line x1="329.5" y1="606.55" x2="619.5" y2="606.55" stroke="#0000ff" stroke-width="1.25" stroke-dasharray="3.63 1.57" stroke-dashoffset="3.0" opacity="0.78"/>
<line x1="329.5" y1="541.38" x2="619.5" y2="541.38" stroke="#000" stroke-width="1" stroke-dasharray="6.27 1.57 0.98 1.57" stroke-dashoffset="3.1" opacity="0.95"/>
<rect x="347.80" y="566.10" width="2.8" height="2.8" fill="#008000"/>
<rect x="332.40" y="568.90" width="2.8" height="2.8" fill="#008000"/>
<rect x="331.00" y="569.50" width="2.8" height="2.8" fill="#008000"/>
<rect x="331.00" y="570.80" width="2.8" height="2.8" fill="#008000"/>
<rect x="331.90" y="574.90" width="2.8" height="2.8" fill="#008000"/>
<rect x="347.00" y="575.80" width="2.8" height="2.8" fill="#008000"/>
<rect x="340.90" y="584.30" width="2.8" height="2.8" fill="#008000"/>
<rect x="331.40" y="585.80" width="2.8" height="2.8" fill="#008000"/>
<rect x="330.00" y="586.20" width="2.8" height="2.8" fill="#008000"/>
<rect x="340.00" y="598.40" width="2.8" height="2.8" fill="#008000"/>
<rect x="347.80" y="598.10" width="2.8" height="2.8" fill="#008000"/>
<rect x="350.10" y="602.00" width="2.8" height="2.8" fill="#008000"/>
<rect x="328.40" y="578.30" width="2.8" height="2.8" fill="#008000"/>
<rect x="345.45" y="461.15" width="2.7" height="2.7" fill="#8b0000"/>
<rect x="405.85" y="460.65" width="2.7" height="2.7" fill="#8b0000"/>
<rect x="356.35" y="466.15" width="2.7" height="2.7" fill="#8b0000"/>
<rect x="351.15" y="472.15" width="2.7" height="2.7" fill="#8b0000"/>
<rect x="357.85" y="471.35" width="2.7" height="2.7" fill="#8b0000"/>
<rect x="340.35" y="474.65" width="2.7" height="2.7" fill="#8b0000"/>
<rect x="388.35" y="471.95" width="2.7" height="2.7" fill="#8b0000"/>
<rect x="401.95" y="474.15" width="2.7" height="2.7" fill="#8b0000"/>
<rect x="431.35" y="488.75" width="2.7" height="2.7" fill="#8b0000"/>
<rect x="411.95" y="494.45" width="2.7" height="2.7" fill="#8b0000"/>
<rect x="344.15" y="512.45" width="2.7" height="2.7" fill="#8b0000"/>
<rect x="329.15" y="522.95" width="2.7" height="2.7" fill="#8b0000"/>
<rect x="394.95" y="521.25" width="2.7" height="2.7" fill="#8b0000"/>
<rect x="413.35" y="521.25" width="2.7" height="2.7" fill="#8b0000"/>
<rect x="357.85" y="526.15" width="2.7" height="2.7" fill="#8b0000"/>
<rect x="369.95" y="529.15" width="2.7" height="2.7" fill="#8b0000"/>
<rect x="428.05" y="526.15" width="2.7" height="2.7" fill="#8b0000"/>
<rect x="329.65" y="536.95" width="2.7" height="2.7" fill="#8b0000"/>
<rect x="373.85" y="537.45" width="2.7" height="2.7" fill="#8b0000"/>
<rect x="347.45" y="550.35" width="2.7" height="2.7" fill="#8b0000"/>
<rect x="349.45" y="551.15" width="2.7" height="2.7" fill="#8b0000"/>
<rect x="352.45" y="547.95" width="2.7" height="2.7" fill="#8b0000"/>
<rect x="364.65" y="549.15" width="2.7" height="2.7" fill="#8b0000"/>
<rect x="421.95" y="551.95" width="2.7" height="2.7" fill="#8b0000"/>
<rect x="418.85" y="559.15" width="2.7" height="2.7" fill="#8b0000"/>
<rect x="328.65" y="559.65" width="2.7" height="2.7" fill="#8b0000"/>
<rect x="444.85" y="465.45" width="2.7" height="2.7" fill="#8b0000"/>
<rect x="473.65" y="466.65" width="2.7" height="2.7" fill="#8b0000"/>
<rect x="328.65" y="466.45" width="2.7" height="2.7" fill="#8b0000"/>
<rect x="448.65" y="478.85" width="2.7" height="2.7" fill="#8b0000"/>
<rect x="442.45" y="497.85" width="2.7" height="2.7" fill="#8b0000"/>
<rect x="481.35" y="497.95" width="2.7" height="2.7" fill="#8b0000"/>
<rect x="443.95" y="508.65" width="2.7" height="2.7" fill="#8b0000"/>
<rect x="446.15" y="534.95" width="2.7" height="2.7" fill="#8b0000"/>
<rect x="482.85" y="533.35" width="2.7" height="2.7" fill="#8b0000"/>
<rect x="510.85" y="527.95" width="2.7" height="2.7" fill="#8b0000"/>
<rect x="331.95" y="611.95" width="2.7" height="2.7" fill="#8b0000"/>
<rect x="459.15" y="613.85" width="2.7" height="2.7" fill="#8b0000"/>
<rect x="471.95" y="610.85" width="2.7" height="2.7" fill="#8b0000"/>
</g>
<text x="543.3" y="552.98" font-size="10.2" textLength="31.1" lengthAdjust="spacingAndGlyphs">cluster</text>
<text x="541.3" y="481.00" font-size="12.9" textLength="73.3" lengthAdjust="spacingAndGlyphs">MACS 1147</text>
<text x="545.8" y="495.40" font-size="12.9" textLength="47" lengthAdjust="spacingAndGlyphs">Parallel</text>
<line x1="326.90" y1="662.30" x2="329.5" y2="662.30" stroke="#000" stroke-width="0.8" stroke-opacity="0.6"/>
<line x1="326.90" y1="617.70" x2="329.5" y2="617.70" stroke="#000" stroke-width="0.8" stroke-opacity="0.6"/>
<line x1="326.90" y1="573.10" x2="329.5" y2="573.10" stroke="#000" stroke-width="0.8" stroke-opacity="0.6"/>
<line x1="326.90" y1="528.50" x2="329.5" y2="528.50" stroke="#000" stroke-width="0.8" stroke-opacity="0.6"/>
<line x1="326.90" y1="483.90" x2="329.5" y2="483.90" stroke="#000" stroke-width="0.8" stroke-opacity="0.6"/>
<line x1="352.39" y1="662.30" x2="352.39" y2="664.90" stroke="#000" stroke-width="0.8" stroke-opacity="0.6"/>
<text x="352.39" y="675.0" font-size="11.3" text-anchor="middle" textLength="15.6" lengthAdjust="spacingAndGlyphs">8.5</text>
<line x1="390.55" y1="662.30" x2="390.55" y2="664.90" stroke="#000" stroke-width="0.8" stroke-opacity="0.6"/>
<text x="390.55" y="675.0" font-size="11.3" text-anchor="middle" textLength="15.6" lengthAdjust="spacingAndGlyphs">9.0</text>
<line x1="428.71" y1="662.30" x2="428.71" y2="664.90" stroke="#000" stroke-width="0.8" stroke-opacity="0.6"/>
<text x="428.71" y="675.0" font-size="11.3" text-anchor="middle" textLength="15.6" lengthAdjust="spacingAndGlyphs">9.5</text>
<line x1="466.87" y1="662.30" x2="466.87" y2="664.90" stroke="#000" stroke-width="0.8" stroke-opacity="0.6"/>
<text x="466.87" y="675.0" font-size="11.3" text-anchor="middle" textLength="22.2" lengthAdjust="spacingAndGlyphs">10.0</text>
<line x1="505.03" y1="662.30" x2="505.03" y2="664.90" stroke="#000" stroke-width="0.8" stroke-opacity="0.6"/>
<text x="505.03" y="675.0" font-size="11.3" text-anchor="middle" textLength="22.2" lengthAdjust="spacingAndGlyphs">10.5</text>
<line x1="543.18" y1="662.30" x2="543.18" y2="664.90" stroke="#000" stroke-width="0.8" stroke-opacity="0.6"/>
<text x="543.18" y="675.0" font-size="11.3" text-anchor="middle" textLength="22.2" lengthAdjust="spacingAndGlyphs">11.0</text>
<line x1="581.34" y1="662.30" x2="581.34" y2="664.90" stroke="#000" stroke-width="0.8" stroke-opacity="0.6"/>
<text x="581.34" y="675.0" font-size="11.3" text-anchor="middle" textLength="22.2" lengthAdjust="spacingAndGlyphs">11.5</text>
<line x1="619.50" y1="662.30" x2="619.50" y2="664.90" stroke="#000" stroke-width="0.8" stroke-opacity="0.6"/>
<text x="619.50" y="675.0" font-size="11.3" text-anchor="middle" textLength="22.2" lengthAdjust="spacingAndGlyphs">12.0</text>
<line x1="39.5" y1="60.2" x2="39.5" y2="662.30" stroke="#000" stroke-width="1.2" stroke-opacity="0.55"/>
<line x1="329.5" y1="60.2" x2="329.5" y2="662.30" stroke="#000" stroke-width="1.2" stroke-opacity="0.55"/>
<line x1="619.5" y1="60.2" x2="619.5" y2="662.30" stroke="#000" stroke-width="1.2" stroke-opacity="0.55"/>
<line x1="38.9" y1="60.20" x2="620.1" y2="60.20" stroke="#000" stroke-width="1.2" stroke-opacity="0.55"/>
<line x1="38.9" y1="260.90" x2="620.1" y2="260.90" stroke="#000" stroke-width="1.5" stroke-opacity="0.5"/>
<line x1="38.9" y1="461.60" x2="620.1" y2="461.60" stroke="#000" stroke-width="1.5" stroke-opacity="0.5"/>
<line x1="38.9" y1="662.30" x2="620.1" y2="662.30" stroke="#000" stroke-width="1.2" stroke-opacity="0.55"/>
<text transform="translate(10.1,360.8) rotate(-90)" font-size="13.6" text-anchor="middle" textLength="74.4" lengthAdjust="spacingAndGlyphs">Redshift (z)</text>
<text x="220.6" y="699.9" font-size="13.4" textLength="80" lengthAdjust="spacingAndGlyphs">Stellar Mass</text>
<text x="303.5" y="699.9" font-size="13.4" textLength="19" lengthAdjust="spacingAndGlyphs">log</text>
<text x="322.5" y="701.6" font-size="9.4" textLength="11.3" lengthAdjust="spacingAndGlyphs">10</text>
<text x="334.6" y="699.9" font-size="13.4">(</text>
<text x="339.8" y="699.9" font-size="13.4" font-style="italic" textLength="10.5" lengthAdjust="spacingAndGlyphs">M</text>
<circle cx="353.6" cy="698.5" r="1.05" fill="#000"/>
<text x="356.4" y="699.9" font-size="13.4">/</text>
<text x="361.0" y="699.9" font-size="13.4" font-style="italic" textLength="11.3" lengthAdjust="spacingAndGlyphs">M</text>
<circle cx="377" cy="699.2" r="2.9" fill="none" stroke="#000" stroke-width="0.8"/>
<circle cx="377" cy="699.2" r="0.8" fill="#000"/>
<text x="381.9" y="699.9" font-size="13.4">)</text>
</svg></body></html>
